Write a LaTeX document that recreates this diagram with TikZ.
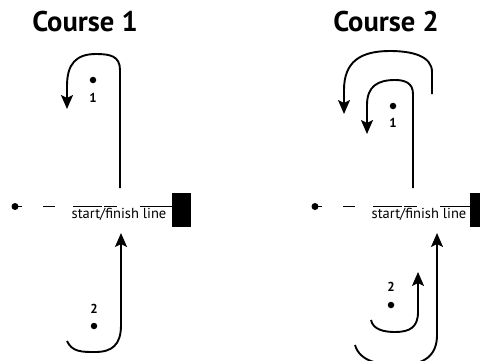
\documentclass[tikz,border=0pt]{standalone}
\usepackage{fontspec}
\setmainfont{PT Sans}
\usetikzlibrary{arrows.meta}
\begin{document}
\begin{tikzpicture}
  [x=1bp,y=-1bp,
   course/.style={line width=1.9bp,-{Stealth[length=14bp,width=12bp,inset=3bp]}},
   buoy/.style={circle,fill,inner sep=0pt,minimum size=6.5bp},
   num/.style={font=\fontsize{13bp}{13bp}\selectfont\bfseries,inner sep=0pt},
   title/.style={font=\fontsize{28.5bp}{28.5bp}\selectfont\bfseries,inner sep=0pt},
   label/.style={anchor=base,inner sep=0pt,font=\fontsize{14.5bp}{14.5bp}\selectfont},
   finish/.style={line width=1.3bp,dash pattern=on 7bp off 21bp on 12bp off 18bp on 29bp off 2bp on 13bp off 23bp on 32bp},
   gate/.style={fill=black,minimum width=19bp,minimum height=34bp,inner sep=0pt}]
\useasboundingbox (0,0) rectangle (480,360);
\clip (0,0) rectangle (480,360);

\node (t1)[title] at (85,21.5) {Course 1};
\node (t2)[title] at (386,21.5) {Course 2};

% course 1
\node (s1)[buoy,minimum size=7bp] at (15,206.5) {};
\coordinate (e1) at (172,206.5);
\node (g1)[gate,anchor=west] at (172,210) {};
\node (l1)[label] at (119,218) {start/finish line};
\draw[finish] (s1.center) -- (e1);
\node (a1)[buoy] at (93,80) {};
\node (n1)[num] at (93,98) {1};
\node (b1)[buoy] at (94,326) {};
\node (m1)[num] at (94,309) {2};
\coordinate (p1) at (120,188);
\coordinate (q1) at (67,109);
\coordinate (r1) at (67,341);
\coordinate (w1) at (121,233);
\draw[course] (p1) -- (120,70) .. controls (120,56) and (110,54) .. (96,54)
  .. controls (76,54) and (67,64) .. (67,86) -- (q1);
\draw[course] (r1) .. controls (72,352) and (82,352) .. (95,352)
  .. controls (112,352) and (121,345) .. (121,325) -- (w1);

% course 2
\node (s2)[buoy,minimum size=7bp] at (315,206.5) {};
\coordinate (e2) at (472,206.5);
\node (g2)[gate,anchor=west] at (470,210) {};
\node (l2)[label] at (419,218) {start/finish line};
\draw[finish] (s2.center) -- (e2);
\node (a2)[buoy] at (393,106) {};
\node (n2)[num] at (393,123) {1};
\node (b2)[buoy] at (391,305) {};
\node (m2)[num] at (391,287) {2};
\coordinate (p2) at (413,188);
\coordinate (q2) at (367,134);
\coordinate (o2) at (432,94);
\coordinate (k2) at (344,114);
\coordinate (r2) at (371,320);
\coordinate (w2) at (418,272);
\coordinate (u2) at (355,345);
\coordinate (v2) at (437,233);
\draw[course] (p2) -- (413,94) .. controls (413,83) and (405,80) .. (395,80)
  .. controls (378,80) and (367,86) .. (367,105) -- (q2);
\draw[course] (o2) -- (432,72) .. controls (432,56) and (412,51) .. (390,51)
  .. controls (360,51) and (344,62) .. (344,90) -- (k2);
\draw[course] (r2) .. controls (373,330) and (385,332) .. (395,332)
  .. controls (410,332) and (418,327) .. (418,312) -- (w2);
\draw[course] (u2) .. controls (360,362) and (380,365) .. (400,365)
  .. controls (425,365) and (437,355) .. (437,335) -- (v2);
\end{tikzpicture}
\end{document}
